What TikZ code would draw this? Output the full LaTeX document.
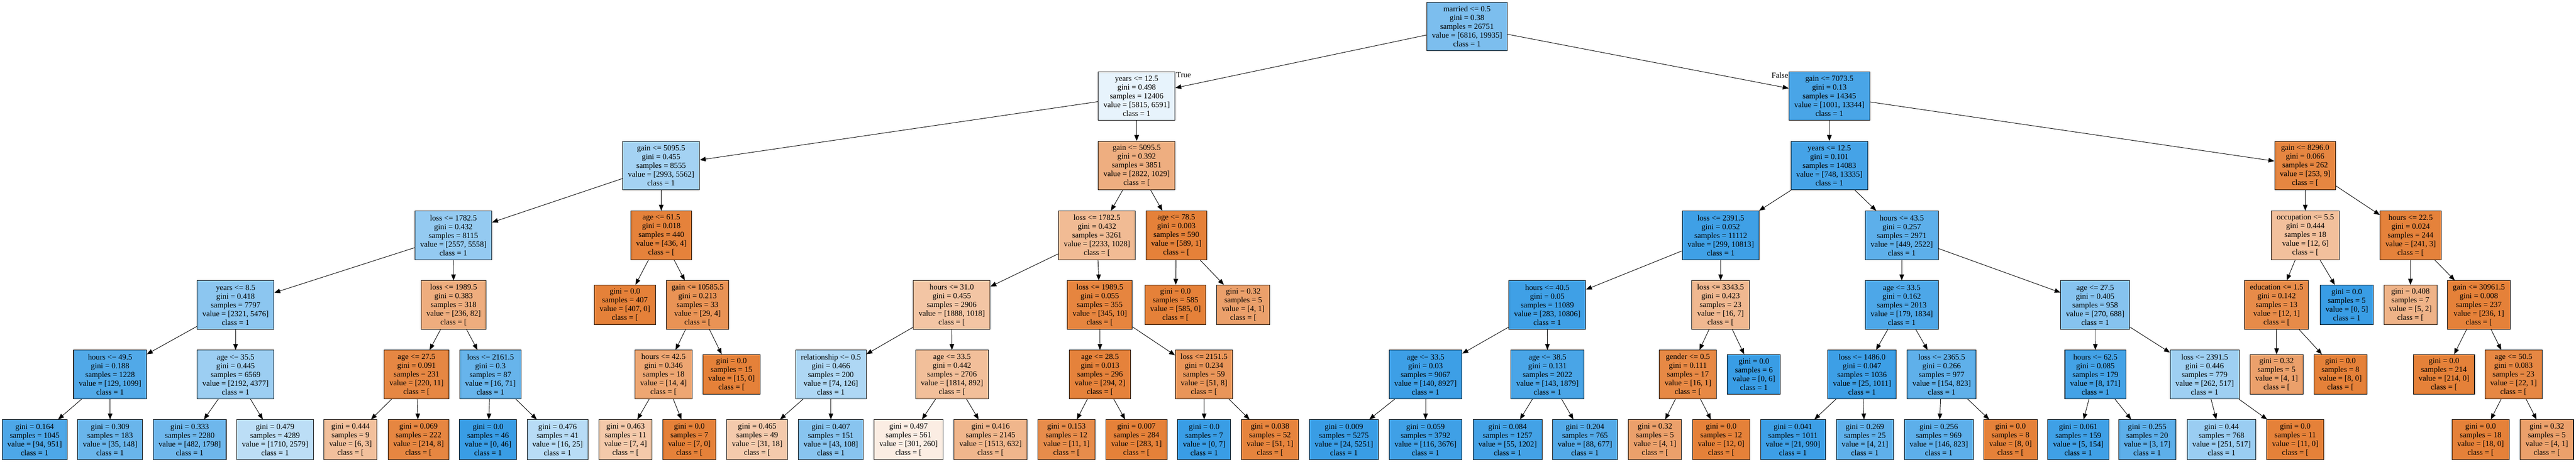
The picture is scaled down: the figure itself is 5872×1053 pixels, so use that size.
\documentclass[tikz,border=0pt]{standalone}
\usepackage{fontspec}
\setmainfont{Liberation Serif}
\usetikzlibrary{arrows.meta}
\definecolor{cA}{HTML}{E58139}
\definecolor{cB}{HTML}{399DE5}
\tikzset{
  testbox/.style={draw=black, line width=1.2pt, rectangle, align=center,
    inner xsep=12pt, inner ysep=0pt, minimum height=111pt,
    font=\fontsize{18}{20}\selectfont},
  leafbox/.style={testbox, minimum height=91pt},
  link/.style={line width=1.1pt, -{Triangle[length=13.5pt,width=10.5pt]}},
  lbl/.style={inner sep=0pt, font=\fontsize{18}{20}\selectfont}
}
\begin{document}
\begin{tikzpicture}[x=1pt,y=-1pt]
  \useasboundingbox[fill=white] (0,0) rectangle (5872,1053);
  % level 0 and 1
  \node[testbox, fill=cB!66] (root) at (3344,60.5) {married <= 0.5\\gini = 0.38\\samples = 26751\\value = [6816, 19935]\\class = 1};
  \node[testbox, fill=cB!12] (a) at (2591,219) {years <= 12.5\\gini = 0.498\\samples = 12406\\value = [5815, 6591]\\class = 1};
  \node[testbox, fill=cB!92] (b) at (4170,219) {gain <= 7073.5\\gini = 0.13\\samples = 14345\\value = [1001, 13344]\\class = 1};
  % level 2
  \node[testbox, fill=cB!46] (aa) at (1507,377.5) {gain <= 5095.5\\gini = 0.455\\samples = 8555\\value = [2993, 5562]\\class = 1};
  \node[testbox, fill=cA!64] (ab) at (2591,377.5) {gain <= 5095.5\\gini = 0.392\\samples = 3851\\value = [2822, 1029]\\class = [};
  \node[testbox, fill=cB!94] (ba) at (4170,377.5) {years <= 12.5\\gini = 0.101\\samples = 14083\\value = [748, 13335]\\class = 1};
  \node[testbox, fill=cA!96] (bb) at (5254.5,377.5) {gain <= 8296.0\\gini = 0.066\\samples = 262\\value = [253, 9]\\class = [};
  % level 3
  \node[testbox, fill=cB!54] (aaa) at (1033.5,536.5) {loss <= 1782.5\\gini = 0.432\\samples = 8115\\value = [2557, 5558]\\class = 1};
  \node[testbox, fill=cA!99] (aab) at (1507.5,536.5) {age <= 61.5\\gini = 0.018\\samples = 440\\value = [436, 4]\\class = [};
  \node[testbox, fill=cA!54] (aba) at (2500.5,536.5) {loss <= 1782.5\\gini = 0.432\\samples = 3261\\value = [2233, 1028]\\class = [};
  \node[testbox, fill=cA!100] (abb) at (2681.5,536.5) {age <= 78.5\\gini = 0.003\\samples = 590\\value = [589, 1]\\class = [};
  \node[testbox, fill=cB!97] (baa) at (3922.5,536.5) {loss <= 2391.5\\gini = 0.052\\samples = 11112\\value = [299, 10813]\\class = 1};
  \node[testbox, fill=cB!82] (bab) at (4335,536.5) {hours <= 43.5\\gini = 0.257\\samples = 2971\\value = [449, 2522]\\class = 1};
  \node[testbox, fill=cA!50] (bba) at (5255,536.5) {occupation <= 5.5\\gini = 0.444\\samples = 18\\value = [12, 6]\\class = [};
  \node[testbox, fill=cA!99] (bbb) at (5495,536.5) {hours <= 22.5\\gini = 0.024\\samples = 244\\value = [241, 3]\\class = [};
  % level 4
  \node[testbox, fill=cB!58] (aaaa) at (537,695.5) {years <= 8.5\\gini = 0.418\\samples = 7797\\value = [2321, 5476]\\class = 1};
  \node[testbox, fill=cA!65] (aaab) at (1034,695.5) {loss <= 1989.5\\gini = 0.383\\samples = 318\\value = [236, 82]\\class = [};
  \node[leafbox, fill=cA!100] (aaba) at (1424.5,695.5) {gini = 0.0\\samples = 407\\value = [407, 0]\\class = [};
  \node[testbox, fill=cA!86] (aabb) at (1590,695.5) {gain <= 10585.5\\gini = 0.213\\samples = 33\\value = [29, 4]\\class = [};
  \node[testbox, fill=cA!46] (abaa) at (2169.5,695.5) {hours <= 31.0\\gini = 0.455\\samples = 2906\\value = [1888, 1018]\\class = [};
  \node[testbox, fill=cA!97] (abab) at (2507,695.5) {loss <= 1989.5\\gini = 0.055\\samples = 355\\value = [345, 10]\\class = [};
  \node[leafbox, fill=cA!100] (abba) at (2679.5,695.5) {gini = 0.0\\samples = 585\\value = [585, 0]\\class = [};
  \node[leafbox, fill=cA!75] (abbb) at (2834,695.5) {gini = 0.32\\samples = 5\\value = [4, 1]\\class = [};
  \node[testbox, fill=cB!97] (baaa) at (3527,695.5) {hours <= 40.5\\gini = 0.05\\samples = 11089\\value = [283, 10806]\\class = 1};
  \node[testbox, fill=cA!56] (baab) at (3922,695.5) {loss <= 3343.5\\gini = 0.423\\samples = 23\\value = [16, 7]\\class = [};
  \node[testbox, fill=cB!90] (baba) at (4335,695.5) {age <= 33.5\\gini = 0.162\\samples = 2013\\value = [179, 1834]\\class = 1};
  \node[testbox, fill=cB!61] (babb) at (4776,695.5) {age <= 27.5\\gini = 0.405\\samples = 958\\value = [270, 688]\\class = 1};
  \node[testbox, fill=cA!92] (bbaa) at (5189.5,695.5) {education <= 1.5\\gini = 0.142\\samples = 13\\value = [12, 1]\\class = [};
  \node[leafbox, fill=cB!100] (bbab) at (5349.5,695.5) {gini = 0.0\\samples = 5\\value = [0, 5]\\class = 1};
  \node[leafbox, fill=cA!60] (bbba) at (5494.5,695.5) {gini = 0.408\\samples = 7\\value = [5, 2]\\class = [};
  \node[testbox, fill=cA!100] (bbbb) at (5650.5,695.5) {gain <= 30961.5\\gini = 0.008\\samples = 237\\value = [236, 1]\\class = [};
  % level 5
  \node[testbox, fill=cB!88] (aaaaa) at (251,854) {hours <= 49.5\\gini = 0.188\\samples = 1228\\value = [129, 1099]\\class = 1};
  \node[testbox, fill=cB!50] (aaaab) at (537,854) {age <= 35.5\\gini = 0.445\\samples = 6569\\value = [2192, 4377]\\class = 1};
  \node[testbox, fill=cA!95] (aaaba) at (949.5,854) {age <= 27.5\\gini = 0.091\\samples = 231\\value = [220, 11]\\class = [};
  \node[testbox, fill=cB!77] (aaabb) at (1118,854) {loss <= 2161.5\\gini = 0.3\\samples = 87\\value = [16, 71]\\class = 1};
  \node[testbox, fill=cA!71] (aabba) at (1512.5,854) {hours <= 42.5\\gini = 0.346\\samples = 18\\value = [14, 4]\\class = [};
  \node[leafbox, fill=cA!100] (aabbb) at (1667.5,854) {gini = 0.0\\samples = 15\\value = [15, 0]\\class = [};
  \node[testbox, fill=cB!41] (abaaa) at (1894,854) {relationship <= 0.5\\gini = 0.466\\samples = 200\\value = [74, 126]\\class = 1};
  \node[testbox, fill=cA!51] (abaab) at (2170,854) {age <= 33.5\\gini = 0.442\\samples = 2706\\value = [1814, 892]\\class = [};
  \node[testbox, fill=cA!99] (ababa) at (2507.5,854) {age <= 28.5\\gini = 0.013\\samples = 296\\value = [294, 2]\\class = [};
  \node[testbox, fill=cA!84] (ababb) at (2744.5,854) {loss <= 2151.5\\gini = 0.234\\samples = 59\\value = [51, 8]\\class = [};
  \node[testbox, fill=cB!98] (baaaa) at (3249.5,854) {age <= 33.5\\gini = 0.03\\samples = 9067\\value = [140, 8927]\\class = 1};
  \node[testbox, fill=cB!92] (baaab) at (3527.5,854) {age <= 38.5\\gini = 0.131\\samples = 2022\\value = [143, 1879]\\class = 1};
  \node[testbox, fill=cA!94] (baaba) at (3847.5,854) {gender <= 0.5\\gini = 0.111\\samples = 17\\value = [16, 1]\\class = [};
  \node[leafbox, fill=cB!100] (baabb) at (3998,854) {gini = 0.0\\samples = 6\\value = [0, 6]\\class = 1};
  \node[testbox, fill=cB!98] (babaa) at (4244.5,854) {loss <= 1486.0\\gini = 0.047\\samples = 1036\\value = [25, 1011]\\class = 1};
  \node[testbox, fill=cB!81] (babab) at (4426,854) {loss <= 2365.5\\gini = 0.266\\samples = 977\\value = [154, 823]\\class = 1};
  \node[testbox, fill=cB!95] (babba) at (4776.5,854) {hours <= 62.5\\gini = 0.085\\samples = 179\\value = [8, 171]\\class = 1};
  \node[testbox, fill=cB!49] (babbb) at (5025.5,854) {loss <= 2391.5\\gini = 0.446\\samples = 779\\value = [262, 517]\\class = 1};
  \node[leafbox, fill=cA!75] (bbaaa) at (5189.5,854) {gini = 0.32\\samples = 5\\value = [4, 1]\\class = [};
  \node[leafbox, fill=cA!100] (bbaab) at (5335,854) {gini = 0.0\\samples = 8\\value = [8, 0]\\class = [};
  \node[leafbox, fill=cA!100] (bbbba) at (5571,854) {gini = 0.0\\samples = 214\\value = [214, 0]\\class = [};
  \node[testbox, fill=cA!95] (bbbbb) at (5729.5,854) {age <= 50.5\\gini = 0.083\\samples = 23\\value = [22, 1]\\class = [};
  % level 6, leaves only
  \node[leafbox, fill=cB!90] (l1) at (79,1002.5) {gini = 0.164\\samples = 1045\\value = [94, 951]\\class = 1};
  \node[leafbox, fill=cB!76] (l2) at (251,1002.5) {gini = 0.309\\samples = 183\\value = [35, 148]\\class = 1};
  \node[leafbox, fill=cB!73] (l3) at (432.5,1002.5) {gini = 0.333\\samples = 2280\\value = [482, 1798]\\class = 1};
  \node[leafbox, fill=cB!34] (l4) at (627,1002.5) {gini = 0.479\\samples = 4289\\value = [1710, 2579]\\class = 1};
  \node[leafbox, fill=cA!50] (l5) at (799,1002.5) {gini = 0.444\\samples = 9\\value = [6, 3]\\class = [};
  \node[leafbox, fill=cA!96] (l6) at (954,1002.5) {gini = 0.069\\samples = 222\\value = [214, 8]\\class = [};
  \node[leafbox, fill=cB!100] (l7) at (1112.5,1002.5) {gini = 0.0\\samples = 46\\value = [0, 46]\\class = 1};
  \node[leafbox, fill=cB!36] (l8) at (1271,1002.5) {gini = 0.476\\samples = 41\\value = [16, 25]\\class = 1};
  \node[leafbox, fill=cA!43] (l9) at (1426,1002.5) {gini = 0.463\\samples = 11\\value = [7, 4]\\class = [};
  \node[leafbox, fill=cA!100] (l10) at (1571.5,1002.5) {gini = 0.0\\samples = 7\\value = [7, 0]\\class = [};
  \node[leafbox, fill=cA!42] (l11) at (1726,1002.5) {gini = 0.465\\samples = 49\\value = [31, 18]\\class = [};
  \node[leafbox, fill=cB!60] (l12) at (1894,1002.5) {gini = 0.407\\samples = 151\\value = [43, 108]\\class = 1};
  \node[leafbox, fill=cA!14] (l13) at (2071,1002.5) {gini = 0.497\\samples = 561\\value = [301, 260]\\class = [};
  \node[leafbox, fill=cA!58] (l14) at (2258,1002.5) {gini = 0.416\\samples = 2145\\value = [1513, 632]\\class = [};
  \node[leafbox, fill=cA!91] (l15) at (2431,1002.5) {gini = 0.153\\samples = 12\\value = [11, 1]\\class = [};
  \node[leafbox, fill=cA!100] (l16) at (2590.5,1002.5) {gini = 0.007\\samples = 284\\value = [283, 1]\\class = [};
  \node[leafbox, fill=cB!100] (l17) at (2745,1002.5) {gini = 0.0\\samples = 7\\value = [0, 7]\\class = 1};
  \node[leafbox, fill=cA!98] (l18) at (2895,1002.5) {gini = 0.038\\samples = 52\\value = [51, 1]\\class = [};
  \node[leafbox, fill=cB!100] (l19) at (3063.5,1002.5) {gini = 0.009\\samples = 5275\\value = [24, 5251]\\class = 1};
  \node[leafbox, fill=cB!97] (l20) at (3249.5,1002.5) {gini = 0.059\\samples = 3792\\value = [116, 3676]\\class = 1};
  \node[leafbox, fill=cB!95] (l21) at (3436.5,1002.5) {gini = 0.084\\samples = 1257\\value = [55, 1202]\\class = 1};
  \node[leafbox, fill=cB!87] (l22) at (3613,1002.5) {gini = 0.204\\samples = 765\\value = [88, 677]\\class = 1};
  \node[leafbox, fill=cA!75] (l23) at (3772.5,1002.5) {gini = 0.32\\samples = 5\\value = [4, 1]\\class = [};
  \node[leafbox, fill=cA!100] (l24) at (3923.5,1002.5) {gini = 0.0\\samples = 12\\value = [12, 0]\\class = [};
  \node[leafbox, fill=cB!98] (l25) at (4087,1002.5) {gini = 0.041\\samples = 1011\\value = [21, 990]\\class = 1};
  \node[leafbox, fill=cB!81] (l26) at (4251,1002.5) {gini = 0.269\\samples = 25\\value = [4, 21]\\class = 1};
  \node[leafbox, fill=cB!82] (l27) at (4419.5,1002.5) {gini = 0.256\\samples = 969\\value = [146, 823]\\class = 1};
  \node[leafbox, fill=cA!100] (l28) at (4583,1002.5) {gini = 0.0\\samples = 8\\value = [8, 0]\\class = [};
  \node[leafbox, fill=cB!97] (l29) at (4737.5,1002.5) {gini = 0.061\\samples = 159\\value = [5, 154]\\class = 1};
  \node[leafbox, fill=cB!82] (l30) at (4894.5,1002.5) {gini = 0.255\\samples = 20\\value = [3, 17]\\class = 1};
  \node[leafbox, fill=cB!51] (l31) at (5064,1002.5) {gini = 0.44\\samples = 768\\value = [251, 517]\\class = 1};
  \node[leafbox, fill=cA!100] (l32) at (5232,1002.5) {gini = 0.0\\samples = 11\\value = [11, 0]\\class = [};
  \node[leafbox, fill=cA!100] (l33) at (5654.5,1002.5) {gini = 0.0\\samples = 18\\value = [18, 0]\\class = [};
  \node[leafbox, fill=cA!75] (l34) at (5805.5,1002.5) {gini = 0.32\\samples = 5\\value = [4, 1]\\class = [};
  % connectors
  \foreach \p/\c in {root/a, root/b, a/aa, a/ab, b/ba, b/bb,
    aa/aaa, aa/aab, ab/aba, ab/abb, ba/baa, ba/bab, bb/bba, bb/bbb,
    aaa/aaaa, aaa/aaab, aab/aaba, aab/aabb, aba/abaa, aba/abab, abb/abba, abb/abbb,
    baa/baaa, baa/baab, bab/baba, bab/babb, bba/bbaa, bba/bbab, bbb/bbba, bbb/bbbb,
    aaaa/aaaaa, aaaa/aaaab, aaab/aaaba, aaab/aaabb, aabb/aabba, aabb/aabbb,
    abaa/abaaa, abaa/abaab, abab/ababa, abab/ababb, baaa/baaaa, baaa/baaab,
    baab/baaba, baab/baabb, baba/babaa, baba/babab, babb/babba, babb/babbb,
    bbaa/bbaaa, bbaa/bbaab, bbbb/bbbba, bbbb/bbbbb,
    aaaaa/l1, aaaaa/l2, aaaab/l3, aaaab/l4, aaaba/l5, aaaba/l6, aaabb/l7, aaabb/l8,
    aabba/l9, aabba/l10, abaaa/l11, abaaa/l12, abaab/l13, abaab/l14, ababa/l15, ababa/l16,
    ababb/l17, ababb/l18, baaaa/l19, baaaa/l20, baaab/l21, baaab/l22, baaba/l23, baaba/l24,
    babaa/l25, babaa/l26, babab/l27, babab/l28, babba/l29, babba/l30, babbb/l31, babbb/l32,
    bbbbb/l33, bbbbb/l34}
  \draw[link] (\p) -- (\c);
  \node[lbl, anchor=base west] (tlab) at ([xshift=2pt,yshift=-14pt]a.north east) {True};
  \node[lbl, anchor=base east] (flab) at ([xshift=-1pt,yshift=-15pt]b.north west) {False};
\end{tikzpicture}
\end{document}
